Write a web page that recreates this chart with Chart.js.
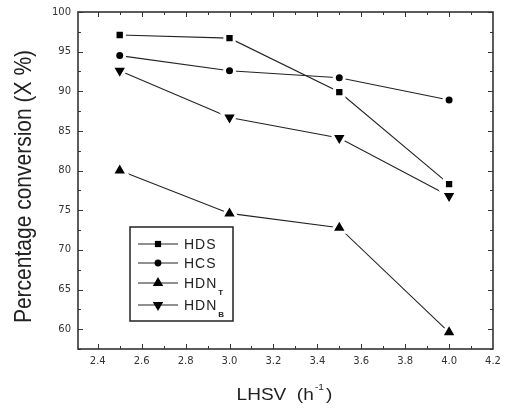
<!DOCTYPE html>
<html>
<head>
<meta charset="utf-8">
<script src="https://cdn.jsdelivr.net/npm/chart.js@4/dist/chart.umd.min.js"></script>
<style>
  html, body { margin: 0; padding: 0; background: #fff; }
  #wrap { width: 505px; height: 410px; }
</style>
</head>
<body>
<div id="wrap"><canvas id="convChart" width="505" height="410"></canvas></div>
<script>
// LHSV values (h^-1)
const lhsv = [2.5, 3.0, 3.5, 4.0];
// percentage conversion per series
const hdsValues  = [97.1, 96.7, 89.9, 78.3];
const hcsValues  = [94.5, 92.6, 91.7, 88.9];
const hdnTValues = [80.0, 74.6, 72.8, 59.6];
const hdnBValues = [92.6, 86.7, 84.1, 76.8];

const seriesNames = ['HDS', 'HCS', 'HDN', 'HDN'];
const seriesSubs  = ['', '', 'T', 'B'];

// tick labels
const xTicks = [2.4, 2.6, 2.8, 3.0, 3.2, 3.4, 3.6, 3.8, 4.0, 4.2];
const xMinor = [2.5, 2.7, 2.9, 3.1, 3.3, 3.5, 3.7, 3.9, 4.1];
const yTicks = [60, 65, 70, 75, 80, 85, 90, 95, 100];
const yMinor = [57.5, 62.5, 67.5, 72.5, 77.5, 82.5, 87.5, 92.5, 97.5];

const xTitle = 'LHSV  (h';
const xTitleSup = '-1';
const yTitle = 'Percentage conversion (X %)';

// marker styles (chart marks have a white halo so the line stops short of them, like Origin)
const markers = [
  { pointStyle: 'rect', radius: 6.6, rotation: 0, legendRadius: 4.4 },
  { pointStyle: 'circle', radius: 5, rotation: 0, legendRadius: 3.4 },
  { pointStyle: 'triangle', radius: 9, rotation: 0, legendRadius: 6 },
  { pointStyle: 'triangle', radius: 9, rotation: 180, legendRadius: 6 }
];

const allValues = [hdsValues, hcsValues, hdnTValues, hdnBValues];

const datasets = allValues.map((vals, i) => ({
  label: seriesNames[i] + seriesSubs[i],
  data: lhsv.map((x, k) => ({ x: x, y: vals[k] })),
  borderColor: '#222',
  borderWidth: 1.1,
  pointStyle: markers[i].pointStyle,
  pointRadius: markers[i].radius,
  pointRotation: markers[i].rotation,
  pointBackgroundColor: '#000',
  pointBorderColor: '#fff',
  pointBorderWidth: 3,
  tension: 0,
  fill: false
}));

// frame with inward ticks on all four sides
const framePlugin = {
  id: 'frame',
  afterDraw(chart) {
    const { ctx, chartArea: a, scales: { x, y } } = chart;
    ctx.save();
    ctx.strokeStyle = '#333';
    ctx.lineWidth = 1;
    const seg = (x1, y1, x2, y2) => { ctx.beginPath(); ctx.moveTo(x1, y1); ctx.lineTo(x2, y2); ctx.stroke(); };
    xTicks.forEach(v => {
      const p = Math.round(x.getPixelForValue(v)) + 0.5;
      if (p < a.left || p > a.right) return;
      seg(p, a.bottom, p, a.bottom - 5);
      seg(p, a.top, p, a.top + 5);
    });
    xMinor.forEach(v => {
      const p = Math.round(x.getPixelForValue(v)) + 0.5;
      seg(p, a.bottom, p, a.bottom - 3);
      seg(p, a.top, p, a.top + 3);
    });
    yTicks.forEach(v => {
      const p = Math.round(y.getPixelForValue(v)) + 0.5;
      seg(a.left, p, a.left + 5, p);
      seg(a.right, p, a.right - 5, p);
    });
    yMinor.forEach(v => {
      const p = Math.round(y.getPixelForValue(v)) + 0.5;
      seg(a.left, p, a.left + 3, p);
      seg(a.right, p, a.right - 3, p);
    });
    ctx.lineWidth = 1.6;
    ctx.strokeRect(a.left, a.top, a.right - a.left, a.bottom - a.top);

    // axis titles
    ctx.fillStyle = '#222';
    ctx.textBaseline = 'alphabetic';
    // x title, slightly stretched
    ctx.save();
    ctx.font = '17px "Liberation Sans", Arial, sans-serif';
    const w1 = ctx.measureText(xTitle).width;
    ctx.font = '9px "Liberation Sans", Arial, sans-serif';
    const w2 = ctx.measureText(xTitleSup).width;
    ctx.font = '17px "Liberation Sans", Arial, sans-serif';
    const w3 = ctx.measureText(')').width;
    const sx = 1.12;
    const total = (w1 + w2 + 3 + w3) * sx;
    const cx = (a.left + a.right) / 2 - 1;
    ctx.translate(cx - total / 2, 400);
    ctx.scale(sx, 1);
    ctx.textAlign = 'left';
    ctx.fillText(xTitle, 0, 0);
    ctx.font = '9px "Liberation Sans", Arial, sans-serif';
    ctx.fillText(xTitleSup, w1 + 1, -10);
    ctx.font = '17px "Liberation Sans", Arial, sans-serif';
    ctx.fillText(')', w1 + w2 + 3, 0);
    ctx.restore();

    // y title, rotated
    ctx.save();
    ctx.translate(31, (a.top + a.bottom) / 2 + 6);
    ctx.rotate(-Math.PI / 2);
    ctx.scale(1, 1.12);
    ctx.font = '21px "Liberation Sans", Arial, sans-serif';
    ctx.textAlign = 'center';
    ctx.fillText(yTitle, 0, 0);
    ctx.restore();

    ctx.restore();
  }
};

// boxed legend inside the plot, with subscripts
const legendPlugin = {
  id: 'boxLegend',
  afterDraw(chart) {
    const { ctx, chartArea: a } = chart;
    const left = a.left + 52, top = a.top + 215, w = 103, h = 94;
    ctx.save();
    ctx.strokeStyle = '#222';
    ctx.lineWidth = 1.5;
    ctx.strokeRect(left, top, w, h);
    const rowY = [17, 36, 56, 78];
    seriesNames.forEach((name, i) => {
      const yy = top + rowY[i];
      ctx.strokeStyle = '#222';
      ctx.lineWidth = 1.1;
      ctx.beginPath();
      ctx.moveTo(left + 8, yy);
      ctx.lineTo(left + 48, yy);
      ctx.stroke();
      ctx.fillStyle = '#000';
      Chart.helpers.drawPoint(ctx, {
        pointStyle: markers[i].pointStyle,
        radius: markers[i].legendRadius,
        rotation: markers[i].rotation,
        borderWidth: 0
      }, left + 28, yy);
      ctx.fillStyle = '#222';
      ctx.font = '14px "Liberation Sans", Arial, sans-serif';
      ctx.letterSpacing = '1px';
      ctx.textAlign = 'left';
      ctx.textBaseline = 'alphabetic';
      ctx.fillText(name, left + 54, yy + 5);
      if (seriesSubs[i]) {
        const tw = ctx.measureText(name).width;
        ctx.font = 'bold 8px "Liberation Sans", Arial, sans-serif';
        ctx.letterSpacing = '0px';
        ctx.fillText(seriesSubs[i], left + 55 + tw, yy + 12);
      }
    });
    ctx.restore();
  }
};

const chart = new Chart(document.getElementById('convChart').getContext('2d'), {
  type: 'line',
  data: { datasets: datasets },
  plugins: [framePlugin, legendPlugin],
  options: {
    responsive: false,
    animation: false,
    events: [],
    layout: { padding: { top: 12, right: 8, left: 0, bottom: 0 } },
    plugins: { legend: { display: false }, tooltip: { enabled: false } },
    scales: {
      x: {
        type: 'linear',
        min: 2.31,
        max: 4.2,
        afterBuildTicks: s => { s.ticks = xTicks.map(v => ({ value: v })); },
        afterFit: s => { s.height = 61; s.paddingLeft = 0; s.paddingRight = 0; },
        grid: { display: false, drawTicks: false },
        border: { display: false },
        ticks: {
          padding: 6,
          color: '#333',
          font: { family: 'DejaVu Sans', size: 10 },
          maxRotation: 0,
          callback: v => Number(v).toFixed(1)
        }
      },
      y: {
        type: 'linear',
        min: 57.5,
        max: 100,
        afterBuildTicks: s => { s.ticks = yTicks.map(v => ({ value: v })); },
        afterFit: s => { s.width = 78; s.paddingTop = 0; s.paddingBottom = 0; },
        grid: { display: false, drawTicks: false },
        border: { display: false },
        ticks: {
          padding: 7,
          color: '#333',
          font: { family: 'DejaVu Sans', size: 10 },
          callback: v => String(v)
        }
      }
    }
  }
});
</script>
</body>
</html>
